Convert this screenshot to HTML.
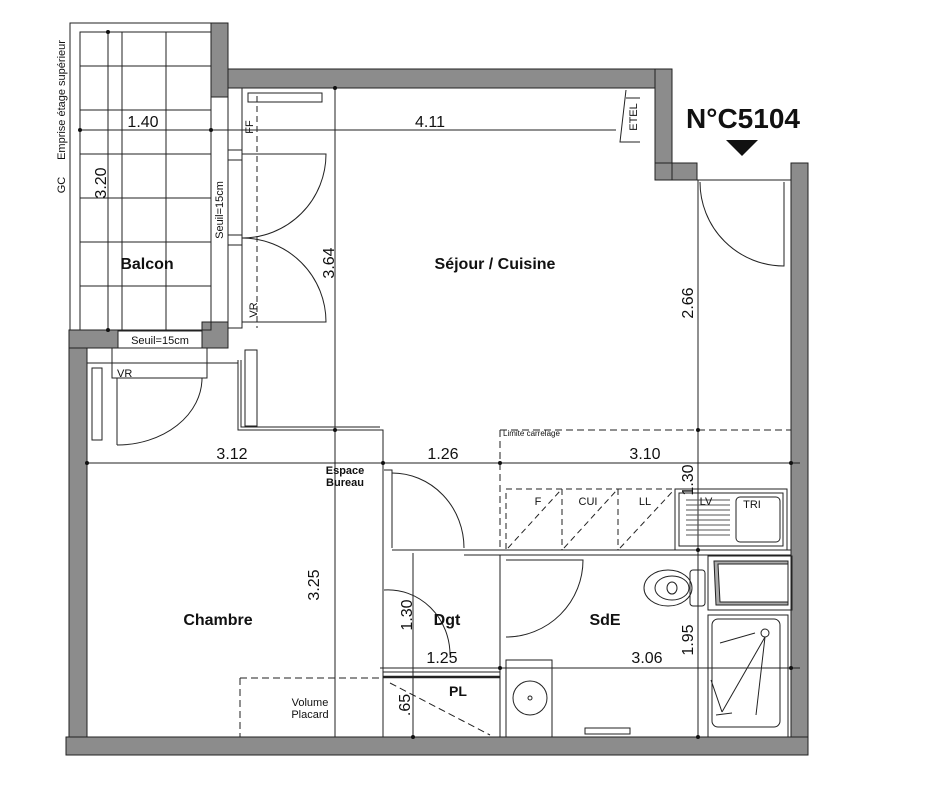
<!DOCTYPE html>
<html><head><meta charset="utf-8"><style>
html,body{margin:0;padding:0;background:#fff;}
svg{display:block;font-family:"Liberation Sans",sans-serif;}
</style></head><body>
<svg width="949" height="800" viewBox="0 0 949 800" xmlns="http://www.w3.org/2000/svg">
<g fill="#8c8c8c" stroke="#222" stroke-width="1">
<!-- balcony right wall top part -->
<rect x="211" y="23" width="17" height="74"/>
<!-- top wall -->
<rect x="228" y="69" width="444" height="19"/>
<!-- notch -->
<rect x="655" y="69" width="17" height="111"/>
<rect x="655" y="163" width="42" height="17"/>
<rect x="672" y="163" width="25" height="17"/>
<!-- right wall -->
<rect x="791" y="163" width="17" height="592"/>
<!-- left wall -->
<rect x="69" y="330" width="18" height="425"/>
<rect x="69" y="330" width="49" height="18"/>
<rect x="202" y="322" width="26" height="26"/>
<!-- bottom wall -->
<rect x="66" y="737" width="742" height="18"/>
</g>
<g fill="none" stroke="#222" stroke-width="1">
<!-- balcony outline -->
<rect x="70" y="23" width="141" height="307"/>
<rect x="80" y="32" width="131" height="298"/>
<line x1="108" y1="32" x2="108" y2="330"/>
<line x1="122" y1="32" x2="122" y2="330"/>
<line x1="166" y1="32" x2="166" y2="330"/>
<line x1="80" y1="66" x2="211" y2="66"/>
<line x1="80" y1="110" x2="211" y2="110"/>
<line x1="80" y1="154" x2="211" y2="154"/>
<line x1="80" y1="198" x2="211" y2="198"/>
<line x1="80" y1="242" x2="211" y2="242"/>
<line x1="80" y1="286" x2="211" y2="286"/>
<!-- seuil -->
<rect x="118" y="331" width="84" height="17"/>
<!-- window strip left of sejour -->
<rect x="228" y="88" width="14" height="240"/>
<line x1="228" y1="150" x2="242" y2="150"/>
<line x1="228" y1="160" x2="242" y2="160"/>
<line x1="228" y1="235" x2="242" y2="235"/>
<line x1="228" y1="245" x2="242" y2="245"/>
<rect x="248" y="93" width="74" height="9"/>
<path d="M242 154 H326 A84 84 0 0 1 242 238" />
<path d="M242 238 A84 84 0 0 1 326 322 H242" />
<line x1="257" y1="96" x2="257" y2="328" stroke-dasharray="6,4"/>
<!-- inner top line -->
<line x1="228" y1="88" x2="655" y2="88"/>
<!-- partition séjour/chambre -->
<polyline points="238,360 238,430 383,430 383,737"/>
<polyline points="241,360 241,427 380,427"/>
<rect x="245" y="350" width="12" height="76"/>
<!-- chambre window -->
<line x1="87" y1="348" x2="87" y2="363"/>
<line x1="87" y1="363" x2="238" y2="363"/>
<rect x="112" y="348" width="95" height="30"/>
<line x1="118" y1="378" x2="202" y2="378" stroke-dasharray="6,4"/>
<rect x="92" y="368" width="10" height="72"/>
<path d="M117 445 V378 H202 A85 67 0 0 1 117 445"/>
<!-- dim lines -->
<line x1="80" y1="130" x2="616" y2="130"/>
<line x1="87" y1="463" x2="800" y2="463"/>
<line x1="380" y1="668" x2="800" y2="668"/>
<line x1="108" y1="32" x2="108" y2="330"/>
<line x1="335" y1="88" x2="335" y2="737"/>
<line x1="698" y1="180" x2="698" y2="737"/>
<line x1="413" y1="553" x2="413" y2="737"/>
<!-- entrance door -->
<line x1="697" y1="180" x2="791" y2="180"/>
<path d="M700 182 A84 84 0 0 0 784 266 V182"/>
<!-- etel -->
<polyline points="626,90 620,142 640,142"/>
<line x1="626" y1="98" x2="640" y2="98"/>
<!-- limite carrelage -->
<line x1="500" y1="430" x2="791" y2="430" stroke-dasharray="7,4"/>
<line x1="500" y1="430" x2="500" y2="550" stroke-dasharray="7,4"/>
<!-- dgt door -->
<polyline points="384,470 392,470 392,548"/>
<path d="M392 473 A72 75 0 0 1 464 548"/>
<line x1="392" y1="550" x2="791" y2="550"/>
<line x1="464" y1="555" x2="791" y2="555"/>
<!-- kitchen -->
<rect x="506" y="489" width="169" height="61" stroke-dasharray="6,4"/>
<line x1="562" y1="489" x2="562" y2="550" stroke-dasharray="6,4"/>
<line x1="618" y1="489" x2="618" y2="550" stroke-dasharray="6,4"/>
<line x1="508" y1="548" x2="560" y2="491" stroke-dasharray="6,4"/>
<line x1="564" y1="548" x2="616" y2="491" stroke-dasharray="6,4"/>
<line x1="620" y1="548" x2="673" y2="491" stroke-dasharray="6,4"/>
<rect x="675" y="489" width="112" height="61"/>
<rect x="679" y="493" width="104" height="53"/>
<rect x="736" y="497" width="44" height="45" rx="4"/>
<g stroke="#555">
<line x1="686" y1="500" x2="730" y2="500"/><line x1="686" y1="505" x2="730" y2="505"/>
<line x1="686" y1="510" x2="730" y2="510"/><line x1="686" y1="515" x2="730" y2="515"/>
<line x1="686" y1="520" x2="730" y2="520"/><line x1="686" y1="525" x2="730" y2="525"/>
<line x1="686" y1="530" x2="730" y2="530"/><line x1="686" y1="535" x2="730" y2="535"/>
</g>
<!-- SdE walls -->
<line x1="500" y1="555" x2="500" y2="737"/>
<line x1="506" y1="660" x2="506" y2="737"/>
<path d="M506 560 H583 A77 77 0 0 1 506 637"/>
<!-- toilet -->
<ellipse cx="668" cy="588" rx="24" ry="18"/>
<ellipse cx="672" cy="588" rx="17" ry="12"/>
<ellipse cx="672" cy="588" rx="5" ry="6"/>
<rect x="690" y="570" width="15" height="36" rx="3"/>
<!-- basin -->
<rect x="506" y="660" width="46" height="77"/>
<circle cx="530" cy="698" r="17"/>
<circle cx="530" cy="698" r="2"/>
<rect x="585" y="728" width="45" height="6"/>
<!-- bath + shower -->
<rect x="708" y="556" width="84" height="54"/>
<path d="M714 561 H788 V605 H716 Z" fill="#aaa"/>
<path d="M718 564 H788 V602 H720 Z" fill="#fff"/>
<rect x="708" y="615" width="80" height="122"/>
<rect x="712" y="619" width="68" height="108" rx="6"/>
<line x1="720" y1="643" x2="755" y2="633"/>
<circle cx="765" cy="633" r="4"/>
<line x1="765" y1="637" x2="722" y2="712"/>
<line x1="765" y1="637" x2="756" y2="715"/>
<line x1="711" y1="680" x2="722" y2="712"/>
<line x1="716" y1="715" x2="732" y2="713"/>
<!-- placard -->
<line x1="383" y1="672" x2="500" y2="672"/>
<line x1="383" y1="677" x2="500" y2="677" stroke-width="2.5"/>
<line x1="240" y1="678" x2="383" y2="678" stroke-dasharray="7,4"/>
<line x1="240" y1="678" x2="240" y2="737" stroke-dasharray="7,4"/>
<line x1="390" y1="683" x2="490" y2="735" stroke-dasharray="7,4"/>
<path d="M384 590 A62 65 0 0 1 450 655" />
<!-- inner bottom -->
<line x1="87" y1="737" x2="791" y2="737"/>
</g>
<g fill="#111">
<circle cx="108" cy="32" r="2"/><circle cx="108" cy="330" r="2"/>
<circle cx="80" cy="130" r="2"/><circle cx="211" cy="130" r="2"/>
<circle cx="335" cy="88" r="2"/><circle cx="335" cy="430" r="2"/>
<circle cx="87" cy="463" r="2"/><circle cx="383" cy="463" r="2"/>
<circle cx="500" cy="463" r="2"/><circle cx="791" cy="463" r="2"/>
<circle cx="698" cy="430" r="2"/><circle cx="698" cy="550" r="2"/>
<circle cx="698" cy="737" r="2"/><circle cx="500" cy="668" r="2"/>
<circle cx="791" cy="668" r="2"/><circle cx="413" cy="737" r="2"/>
<polygon points="726,140 758,140 742,156"/>
</g>
<g font-size="16" fill="#111">
<text x="143" y="127" text-anchor="middle">1.40</text>
<text x="430" y="127" text-anchor="middle">4.11</text>
<text x="232" y="459" text-anchor="middle">3.12</text>
<text x="443" y="459" text-anchor="middle">1.26</text>
<text x="645" y="459" text-anchor="middle">3.10</text>
<text x="442" y="663" text-anchor="middle">1.25</text>
<text x="647" y="663" text-anchor="middle">3.06</text>
<text transform="translate(106,183) rotate(-90)" text-anchor="middle">3.20</text>
<text transform="translate(334,263) rotate(-90)" text-anchor="middle">3.64</text>
<text transform="translate(693,303) rotate(-90)" text-anchor="middle">2.66</text>
<text transform="translate(693,480) rotate(-90)" text-anchor="middle">1.30</text>
<text transform="translate(319,585) rotate(-90)" text-anchor="middle">3.25</text>
<text transform="translate(412,615) rotate(-90)" text-anchor="middle">1.30</text>
<text transform="translate(693,640) rotate(-90)" text-anchor="middle">1.95</text>
<text transform="translate(410,705) rotate(-90)" text-anchor="middle">.65</text>
</g>
<g font-weight="bold" fill="#111" font-size="16" text-anchor="middle">
<text x="147" y="269">Balcon</text>
<text x="495" y="269">Séjour / Cuisine</text>
<text x="218" y="625">Chambre</text>
<text x="447" y="625">Dgt</text>
<text x="605" y="625">SdE</text>
<text x="458" y="696" font-size="14">PL</text>
<text x="345" y="474" font-size="11">Espace</text>
<text x="345" y="486" font-size="11">Bureau</text>
<text x="743" y="128" font-size="28">N°C5104</text>
</g>
<g fill="#111" font-size="11">
<text x="160" y="344" text-anchor="middle">Seuil=15cm</text>
<text x="117" y="377">VR</text>
<text transform="translate(223,210) rotate(-90)" text-anchor="middle">Seuil=15cm</text>
<text transform="translate(257,310) rotate(-90)" text-anchor="middle">VR</text>
<text transform="translate(253,127) rotate(-90)" text-anchor="middle">FF</text>
<text transform="translate(637,117) rotate(-90)" text-anchor="middle">ETEL</text>
<text transform="translate(65,100) rotate(-90)" text-anchor="middle">Emprise étage supérieur</text>
<text transform="translate(65,185) rotate(-90)" text-anchor="middle">GC</text>
<text x="310" y="706" text-anchor="middle">Volume</text>
<text x="310" y="718" text-anchor="middle">Placard</text>
<text x="538" y="505" text-anchor="middle">F</text>
<text x="588" y="505" text-anchor="middle">CUI</text>
<text x="645" y="505" text-anchor="middle">LL</text>
<text x="706" y="505" text-anchor="middle">LV</text>
<text x="752" y="508" text-anchor="middle">TRI</text>
<text x="503" y="436" font-size="8">Limite carrelage</text>
</g>
</svg>
</body></html>
